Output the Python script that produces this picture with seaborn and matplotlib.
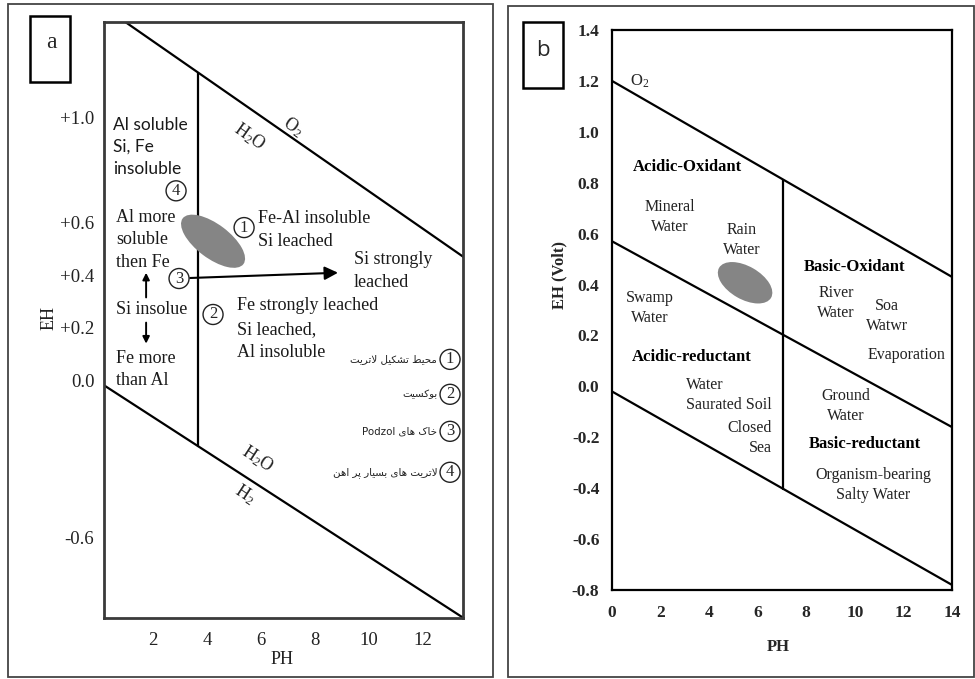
import numpy as np
import pandas as pd
import matplotlib
matplotlib.use("Agg")
import matplotlib.pyplot as plt
import seaborn as sns
from matplotlib.patches import Ellipse, Rectangle
from matplotlib.transforms import ScaledTranslation

# ---------------- panel a : Eh-pH fields of lateritic weathering ----------------
a_ph_ticks = [2, 4, 6, 8, 10, 12]
a_eh_ticks = [1.0, 0.6, 0.4, 0.2, 0.0, -0.6]
a_eh_ticklabels = ["+1.0", "+0.6", "+0.4", "+0.2", "0.0", "-0.6"]
a_upper_ph = [0.9, 13.5]          # O2 / H2O boundary
a_upper_eh = [1.37, 0.47]
a_lower_ph = [0.2, 13.5]          # H2O / H2 boundary
a_lower_eh = [-0.02, -0.905]
a_split_ph = 3.67                 # Al solubility limit
a_field_center = (4.22, 0.53)     # shaded laterite field
a_legend_numbers = ["1", "2", "3", "4"]
a_legend_texts = ["محیط تشکیل لاتریت", "بوکسیت", "خاک های Podzol",
                  "لاتریت های بسیار پر اهن"]
a_legend_eh = [0.08, -0.053, -0.194, -0.35]

# ---------------- panel b : natural waters in Eh-pH space ----------------
b_ph_ticks = [0, 2, 4, 6, 8, 10, 12, 14]
b_eh_ticks = [-0.8, -0.6, -0.4, -0.2, 0.0, 0.2, 0.4, 0.6, 0.8, 1.0, 1.2, 1.4]
b_o2_ph = [0, 14]
b_o2_eh = [1.2, 0.43]
b_mid_ph = [0, 14]
b_mid_eh = [0.57, -0.16]
b_h2_ph = [0, 14]
b_h2_eh = [-0.02, -0.78]
b_neutral_ph = 7.05
b_field_center = (5.48, 0.407)

sns.set_theme(style="white")
plt.rcParams["font.family"] = ["Liberation Serif", "DejaVu Sans"]
plt.rcParams["mathtext.fontset"] = "custom"
plt.rcParams["mathtext.rm"] = "Liberation Serif"
plt.rcParams["mathtext.it"] = "Liberation Serif:italic"

SERIF = ["Liberation Serif", "DejaVu Sans"]


# --- minimal Persian shaping (presentation forms + right-to-left order) ---
FORMS = {
    "ا": ("\uFE8D", "\uFE8E", None, None),
    "ب": ("\uFE8F", "\uFE90", "\uFE91", "\uFE92"),
    "پ": ("\uFB56", "\uFB57", "\uFB58", "\uFB59"),
    "ت": ("\uFE95", "\uFE96", "\uFE97", "\uFE98"),
    "ح": ("\uFEA1", "\uFEA2", "\uFEA3", "\uFEA4"),
    "خ": ("\uFEA5", "\uFEA6", "\uFEA7", "\uFEA8"),
    "د": ("\uFEA9", "\uFEAA", None, None),
    "ر": ("\uFEAD", "\uFEAE", None, None),
    "س": ("\uFEB1", "\uFEB2", "\uFEB3", "\uFEB4"),
    "ش": ("\uFEB5", "\uFEB6", "\uFEB7", "\uFEB8"),
    "ط": ("\uFEC1", "\uFEC2", "\uFEC3", "\uFEC4"),
    "ک": ("\uFB8E", "\uFB8F", "\uFB90", "\uFB91"),
    "ل": ("\uFEDD", "\uFEDE", "\uFEDF", "\uFEE0"),
    "م": ("\uFEE1", "\uFEE2", "\uFEE3", "\uFEE4"),
    "ن": ("\uFEE5", "\uFEE6", "\uFEE7", "\uFEE8"),
    "ه": ("\uFEE9", "\uFEEA", "\uFEEB", "\uFEEC"),
    "و": ("\uFEED", "\uFEEE", None, None),
    "ی": ("\uFBFC", "\uFBFD", "\uFBFE", "\uFBFF"),
    "لا": ("\uFEFB", "\uFEFC", None, None),
}


def shape_word(word):
    units, i = [], 0
    while i < len(word):
        if word[i] == "ل" and i + 1 < len(word) and word[i + 1] == "ا":
            units.append("لا")
            i += 2
        else:
            units.append(word[i])
            i += 1
    out = []
    for k, u in enumerate(units):
        f = FORMS[u]
        prev_joins = k > 0 and FORMS[units[k - 1]][2] is not None
        next_joins = f[2] is not None and k < len(units) - 1
        if prev_joins and next_joins:
            out.append(f[3])
        elif prev_joins:
            out.append(f[1])
        elif next_joins:
            out.append(f[2])
        else:
            out.append(f[0])
    return "".join(reversed(out))


def rtl(text):
    tokens = []
    for w in text.split(" "):
        tokens.append(shape_word(w) if w and w[0] in FORMS else w)
    return " ".join(reversed(tokens))


def draw_line(ax, xs, ys, lw=1.6):
    sns.lineplot(x=xs, y=ys, ax=ax, color="black", linewidth=lw,
                 estimator=None, sort=False, legend=False)


def field(ax, center, w_in, h_in, angle):
    tr = fig.dpi_scale_trans + ScaledTranslation(center[0], center[1], ax.transData)
    ax.add_patch(Ellipse((0, 0), w_in, h_in, angle=angle, transform=tr,
                         facecolor="#858585", edgecolor="none", zorder=3))


fig = plt.figure(figsize=(9.75, 6.79), dpi=100)

# outer frames of the two panels
fig.add_artist(Rectangle((8 / 975, 2 / 679), 485 / 975, 673 / 679, transform=fig.transFigure,
                         fill=False, edgecolor="#444444", linewidth=1.3))
fig.add_artist(Rectangle((508 / 975, 2 / 679), 466 / 975, 671 / 679, transform=fig.transFigure,
                         fill=False, edgecolor="#444444", linewidth=1.3))

# ======================= panel a =======================
ax = fig.add_axes([104 / 975, 1 - 618 / 679, 359 / 975, 596 / 679])
ax.set_xlim(0.18, 13.48)
ax.set_ylim(-0.905, 1.365)

draw_line(ax, a_upper_ph, a_upper_eh)
draw_line(ax, a_lower_ph, a_lower_eh)
top_a = np.interp(a_split_ph, a_upper_ph, a_upper_eh)
bot_a = np.interp(a_split_ph, a_lower_ph, a_lower_eh)
draw_line(ax, [a_split_ph, a_split_ph], [bot_a, top_a])
field(ax, a_field_center, 0.76, 0.34, -37)

for s in ax.spines.values():
    s.set_color("#3a3a3a")
    s.set_linewidth(2.0)
ax.set_xticks(a_ph_ticks)
ax.set_yticks(a_eh_ticks)
ax.set_yticklabels(a_eh_ticklabels)
ax.tick_params(axis="both", which="major", direction="out", length=5, width=1.6,
               color="#3a3a3a", labelsize=13.5, labelcolor="#222222")
ax.tick_params(axis="x", pad=5)
ax.tick_params(axis="y", pad=2)
for lab in ax.get_xticklabels() + ax.get_yticklabels():
    lab.set_family(SERIF)
ax.set_xlabel("PH", fontsize=13, family=SERIF, color="#222222")
ax.set_ylabel("EH", fontsize=13, family=SERIF, color="#222222")
ax.xaxis.set_label_coords(0.496, -0.055)
ax.yaxis.set_label_coords(-0.13, 0.503)

txt = dict(family=SERIF, color="#1a1a1a", fontsize=13, linespacing=1.42, zorder=4)
ax.text(0.52, 0.89, "Al soluble\nSi, Fe\ninsoluble", family=["Lato", "DejaVu Sans"],
        fontsize=12.5, ha="left", va="center", color="#1a1a1a", linespacing=1.47)
ax.text(0.63, 0.536, "Al more\nsoluble\nthen Fe", ha="left", va="center", **txt)
ax.text(0.63, 0.27, "Si insolue", ha="left", va="center", **txt)
ax.text(0.63, 0.042, "Fe more\nthan Al", ha="left", va="center", **txt)
ax.text(5.89, 0.572, "Fe-Al insoluble\nSi leached", ha="left", va="center", **txt)
ax.text(9.44, 0.416, "Si strongly\nleached", ha="left", va="center", **txt)
ax.text(5.11, 0.284, "Fe strongly leached", ha="left", va="center", **txt)
ax.text(5.11, 0.149, "Si leached,\nAl insoluble", ha="left", va="center", **txt)

arrow = dict(arrowstyle="-|>", color="black", lw=1.4, mutation_scale=10, shrinkA=0, shrinkB=0)
ax.annotate("", xy=(1.74, 0.41), xytext=(1.74, 0.316), arrowprops=arrow)
ax.annotate("", xy=(1.74, 0.14), xytext=(1.74, 0.22), arrowprops=arrow)
ax.annotate("", xy=(8.85, 0.41), xytext=(3.37, 0.39),
            arrowprops=dict(arrowstyle="-|>", color="black", lw=1.5,
                            mutation_scale=20, shrinkA=0, shrinkB=0))

ax.text(5.59, 0.928, r"H$_\mathrm{2}$O", rotation=-35, ha="center", va="center",
        fontsize=13, family=SERIF)
ax.text(7.19, 0.966, r"O$_\mathrm{2}$", rotation=-35, ha="center", va="center",
        fontsize=13, family=SERIF)
ax.text(5.89, -0.30, r"H$_\mathrm{2}$O", rotation=-33, ha="center", va="center",
        fontsize=13, family=SERIF)
ax.text(5.41, -0.433, r"H$_\mathrm{2}$", rotation=-33, ha="center", va="center",
        fontsize=13, family=SERIF)

circ = dict(boxstyle="circle,pad=0.12", facecolor="white", edgecolor="#222222", linewidth=1.0)
for num, pos in zip(["4", "1", "3", "2"],
                    [(2.85, 0.722), (5.37, 0.582), (2.96, 0.388), (4.22, 0.251)]):
    ax.text(pos[0], pos[1], num, ha="center", va="center", fontsize=12,
            family=SERIF, bbox=circ, zorder=5)

for num, label, eh in zip(a_legend_numbers, a_legend_texts, a_legend_eh):
    ax.text(13.0, eh, num, ha="center", va="center", fontsize=12,
            family=SERIF, bbox=circ, zorder=5)
    ax.text(12.53, eh, rtl(label), ha="right", va="center", fontsize=7.4,
            family=["DejaVu Sans"], color="#222222")

fig.add_artist(Rectangle((30 / 975, 1 - 82 / 679), 40 / 975, 66 / 679, transform=fig.transFigure,
                         fill=False, edgecolor="black", linewidth=1.8))
fig.text(51 / 975, 1 - 43 / 679, "a", ha="center", va="center", fontsize=17, family=SERIF)

# ======================= panel b =======================
bx = fig.add_axes([612 / 975, 1 - 590 / 679, 340 / 975, 560 / 679])
bx.set_xlim(0, 14)
bx.set_ylim(-0.8, 1.4)

draw_line(bx, b_o2_ph, b_o2_eh)
draw_line(bx, b_mid_ph, b_mid_eh)
draw_line(bx, b_h2_ph, b_h2_eh)
top_b = np.interp(b_neutral_ph, b_o2_ph, b_o2_eh)
bot_b = np.interp(b_neutral_ph, b_h2_ph, b_h2_eh)
draw_line(bx, [b_neutral_ph, b_neutral_ph], [bot_b, top_b])
field(bx, b_field_center, 0.60, 0.33, -30)

for s in bx.spines.values():
    s.set_color("black")
    s.set_linewidth(1.6)
bx.set_xticks(b_ph_ticks)
bx.set_yticks(b_eh_ticks)
bx.set_yticklabels([f"{v:.1f}" for v in b_eh_ticks])
bx.tick_params(axis="x", direction="out", length=4, width=1.4, color="black", pad=7)
bx.tick_params(axis="y", length=0, pad=9)
for lab in bx.get_xticklabels() + bx.get_yticklabels():
    lab.set_family(SERIF)
    lab.set_fontweight("bold")
    lab.set_fontsize(12.5)
bx.set_xlabel("PH", fontsize=12, family=SERIF, fontweight="bold")
bx.set_ylabel("EH (Volt)", fontsize=12, family=SERIF, fontweight="bold")
bx.xaxis.set_label_coords(0.488, -0.088)
bx.yaxis.set_label_coords(-0.13, 0.5625)

bold = dict(family=SERIF, fontsize=12, fontweight="bold", color="black",
            ha="center", va="center")
norm = dict(family=SERIF, fontsize=11.5, color="#222222", va="center", linespacing=1.33)
bx.text(1.15, 1.2, r"O$_\mathrm{2}$", family=SERIF, fontsize=12, ha="center", va="center")
bx.text(3.09, 0.86, "Acidic-Oxidant", **bold)
bx.text(10.0, 0.469, "Basic-Oxidant", **bold)
bx.text(3.29, 0.117, "Acidic-reductant", **bold)
bx.text(10.42, -0.226, "Basic-reductant", **bold)
bx.text(2.39, 0.664, "Mineral\nWater", ha="center", multialignment="center", **norm)
bx.text(5.35, 0.576, "Rain\nWater", ha="center", multialignment="center", **norm)
bx.text(9.22, 0.327, "River\nWater", ha="center", multialignment="center", **norm)
bx.text(11.32, 0.276, "Soa\nWatwr", ha="center", multialignment="center", **norm)
bx.text(1.56, 0.309, "Swamp\nWater", ha="center", multialignment="center", **norm)
bx.text(12.14, 0.125, "Evaporation", ha="center", **norm)
bx.text(3.05, -0.035, "Water\nSaurated Soil", ha="left", multialignment="left", **norm)
bx.text(6.59, -0.202, "Closed\nSea", ha="right", multialignment="right", **norm)
bx.text(9.63, -0.078, "Ground\nWater", ha="center", multialignment="center", **norm)
bx.text(10.75, -0.389, "Organism-bearing\nSalty Water", ha="center", multialignment="center", **norm)

fig.add_artist(Rectangle((523 / 975, 1 - 88 / 679), 40 / 975, 66 / 679, transform=fig.transFigure,
                         fill=False, edgecolor="black", linewidth=1.8))
fig.text(543 / 975, 1 - 50 / 679, "b", ha="center", va="center", fontsize=16,
         family=["Open Sans", "DejaVu Sans"])

fig.savefig("out.png", dpi=100)
